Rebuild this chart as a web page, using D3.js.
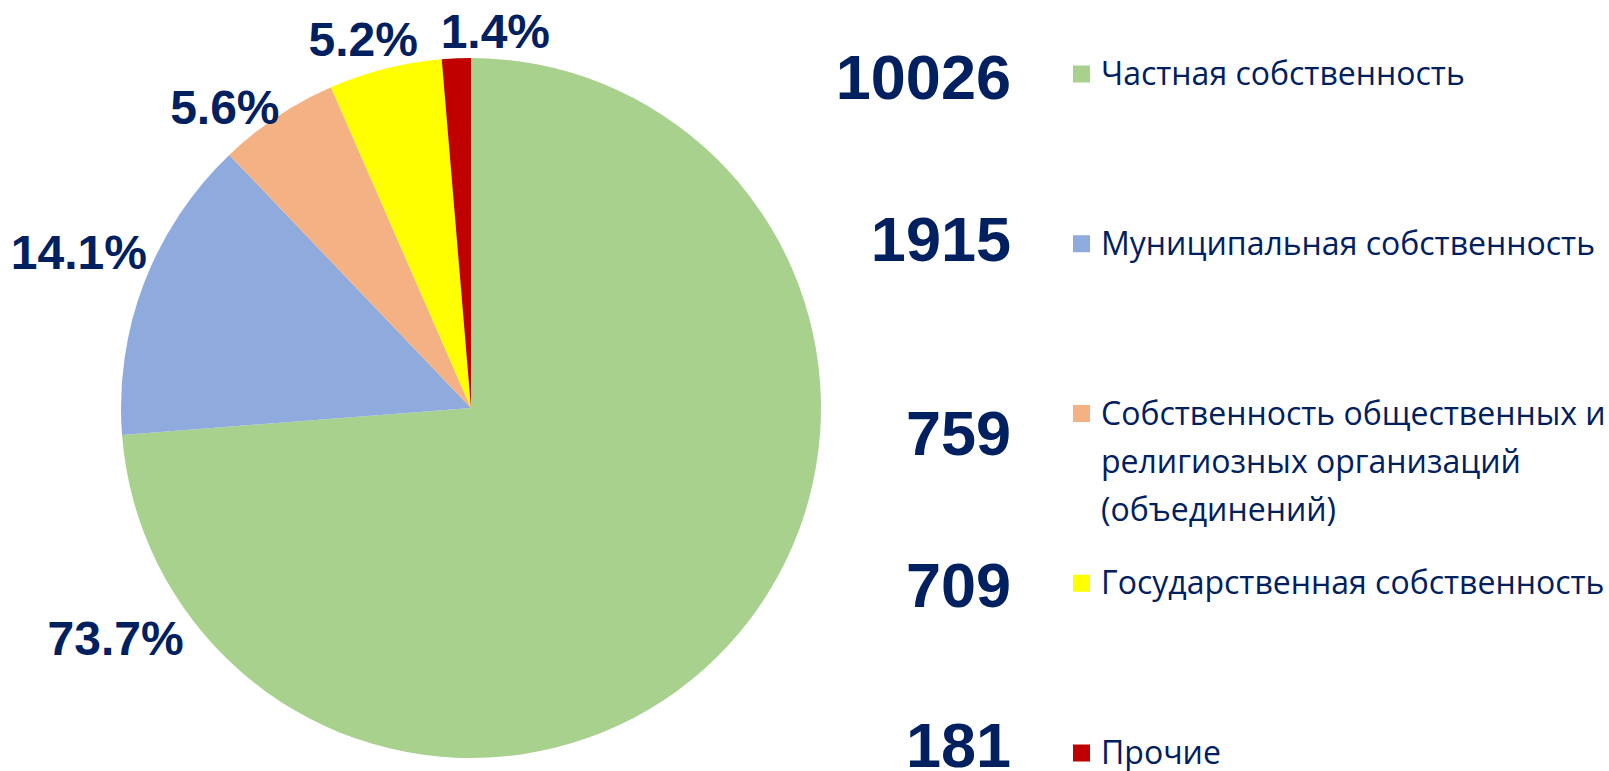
<!DOCTYPE html>
<html>
<head>
<meta charset="utf-8">
<script src="https://cdn.jsdelivr.net/npm/d3@7"></script>
<style>
  html, body { margin: 0; padding: 0; background: #fff; }
  svg { display: block; }
</style>
</head>
<body>
<div id="chart"></div>
<script>
// data
var categories = [
  "Частная собственность",
  "Муниципальная собственность",
  "Собственность общественных и религиозных организаций (объединений)",
  "Государственная собственность",
  "Прочие"
];
var legendLines = [
  ["Частная собственность"],
  ["Муниципальная собственность"],
  ["Собственность общественных и", "религиозных организаций", "(объединений)"],
  ["Государственная собственность"],
  ["Прочие"]
];
var counts = [10026, 1915, 759, 709, 181];
var percentLabels = ["73.7%", "14.1%", "5.6%", "5.2%", "1.4%"];
var colors = ["#A9D18E", "#8FAADC", "#F4B183", "#FFFF00", "#C00000"];

function init() {
  var w = 1609;
  var h = 771;
  var navy = "#002060";

  var cx = 471, cy = 408, r = 350;

  var svg = d3.select("#chart")
      .append("svg")
      .attr("width", w)
      .attr("height", h);

  var pie = d3.pie().sort(null).value(function(d) { return d; });
  var arcs = pie(counts);
  var arc = d3.arc().innerRadius(0).outerRadius(r);

  var g = svg.append("g").attr("transform", "translate(" + cx + "," + cy + ")");

  g.selectAll("path")
    .data(arcs)
    .enter()
    .append("path")
    .attr("d", arc)
    .attr("fill", function(d, i) { return colors[i]; });

  // label placement: fraction along the slice + distance from centre (excel-ish best fit)
  var labelT = [0.893, 0.514, 0.22, 0.39, 1.77];
  var labelDist = [423, 422, 389, 385, 378];

  g.selectAll("text.pct")
    .data(arcs)
    .enter()
    .append("text")
    .attr("class", "pct")
    .attr("transform", function(d, i) {
      var a = d.startAngle + labelT[i] * (d.endAngle - d.startAngle);
      var p = d3.pointRadial(a, labelDist[i]);
      return "translate(" + p[0] + "," + p[1] + ")";
    })
    .attr("dy", "0.36em")
    .attr("text-anchor", "middle")
    .style("font-family", "'Liberation Sans', Arial, sans-serif")
    .style("font-weight", "bold")
    .style("font-size", "48px")
    .style("fill", navy)
    .text(function(d, i) { return percentLabels[i]; });

  // legend
  var rowY = d3.scalePoint()
      .domain(d3.range(categories.length))
      .range([74, 753]);

  var markerX = 1073, markerSize = 17, textX = 1101, numRight = 1011;
  var numNudge = [25, 17, 41, 24, 14];

  var leg = svg.selectAll("g.leg")
    .data(categories)
    .enter()
    .append("g")
    .attr("class", "leg");

  leg.append("rect")
    .attr("x", markerX)
    .attr("y", function(d, i) { return rowY(i) - markerSize / 2; })
    .attr("width", markerSize)
    .attr("height", markerSize)
    .attr("fill", function(d, i) { return colors[i]; });

  leg.each(function(d, i) {
    var t = d3.select(this).append("text")
      .attr("x", textX)
      .attr("y", rowY(i) + 11)
      .style("font-family", "'Open Sans', sans-serif")
      .style("font-size", "32px")
      .style("fill", navy);
    legendLines[i].forEach(function(line, k) {
      t.append("tspan")
        .attr("x", textX)
        .attr("dy", k === 0 ? 0 : 48)
        .text(line);
    });
  });

  leg.append("text")
    .attr("x", numRight)
    .attr("y", function(d, i) { return rowY(i) + numNudge[i]; })
    .attr("text-anchor", "end")
    .style("font-family", "'Liberation Sans', Arial, sans-serif")
    .style("font-weight", "bold")
    .style("font-size", "63px")
    .style("fill", navy)
    .text(function(d, i) { return counts[i]; });
}

window.onload = init;
</script>
</body>
</html>
